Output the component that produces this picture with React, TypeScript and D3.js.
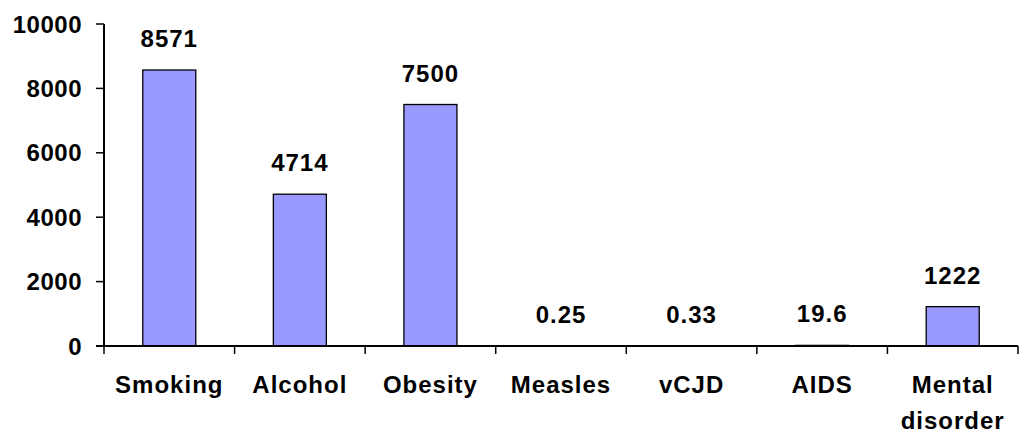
import React from "react";
import * as d3 from "d3";

// Estimated annual deaths per category
const categories: string[][] = [
  ["Smoking"],
  ["Alcohol"],
  ["Obesity"],
  ["Measles"],
  ["vCJD"],
  ["AIDS"],
  ["Mental", "disorder"],
];
const values: number[] = [8571, 4714, 7500, 0.25, 0.33, 19.6, 1222];
const valueLabels: string[] = ["8571", "4714", "7500", "0.25", "0.33", "19.6", "1222"];
const yTicks: number[] = [0, 2000, 4000, 6000, 8000, 10000];

const W = 1021;
const H = 435;
const margin = { left: 104, right: 3, top: 24, bottom: 89 };
const FONT = "Arial, 'Liberation Sans', Helvetica, sans-serif";

export default function App() {
  const x = d3
    .scaleBand<number>()
    .domain(d3.range(categories.length))
    .range([margin.left, W - margin.right])
    .paddingInner(0.594)
    .paddingOuter(0.297);
  const y = d3
    .scaleLinear()
    .domain([0, 10000])
    .range([H - margin.bottom, margin.top]);

  const step = x.step();
  const x0 = margin.left;
  const y0 = y(0);
  const boundaries = d3.range(categories.length + 1).map((i) => x0 + i * step);

  return (
    <svg
      width={W}
      height={H}
      style={{ position: "absolute", left: 0, top: 0, background: "#fff" }}
      fontFamily={FONT}
      fontWeight="bold"
    >
      {/* bars */}
      {values.map((v, i) => (
        <rect
          key={"b" + i}
          x={x(i)!}
          y={y(v)}
          width={x.bandwidth()}
          height={y0 - y(v)}
          fill="#9999FF"
          stroke="#000"
          strokeWidth={1.3}
        />
      ))}
      {/* value labels */}
      {values.map((v, i) => (
        <text
          key={"v" + i}
          x={x(i)! + x.bandwidth() / 2}
          y={y(v) - 23}
          textAnchor="middle"
          fontSize={24}
          letterSpacing={1}
          fill="#000"
        >
          {valueLabels[i]}
        </text>
      ))}
      {/* y axis */}
      <line x1={x0} x2={x0} y1={y(10000)} y2={y0} stroke="#000" strokeWidth={2} />
      {yTicks.map((t) => (
        <g key={"t" + t}>
          <line x1={x0 - 8} x2={x0} y1={y(t)} y2={y(t)} stroke="#000" strokeWidth={1.5} />
          <text
            x={82}
            y={y(t)}
            dy="0.36em"
            textAnchor="end"
            fontSize={24}
            letterSpacing={0.5}
            fill="#000"
          >
            {t}
          </text>
        </g>
      ))}
      {/* x axis */}
      <line x1={x0 - 8} x2={W - margin.right} y1={y0} y2={y0} stroke="#000" strokeWidth={2} />
      {boundaries.map((bx, i) => (
        <line key={"xt" + i} x1={bx} x2={bx} y1={y0} y2={y0 + 8} stroke="#000" strokeWidth={1.5} />
      ))}
      {categories.map((lines, i) => (
        <text
          key={"c" + i}
          x={x(i)! + x.bandwidth() / 2}
          y={393}
          textAnchor="middle"
          fontSize={24}
          letterSpacing={1}
          fill="#000"
        >
          {lines.map((ln, j) => (
            <tspan key={j} x={x(i)! + x.bandwidth() / 2} dy={j === 0 ? 0 : 36}>
              {ln}
            </tspan>
          ))}
        </text>
      ))}
    </svg>
  );
}
